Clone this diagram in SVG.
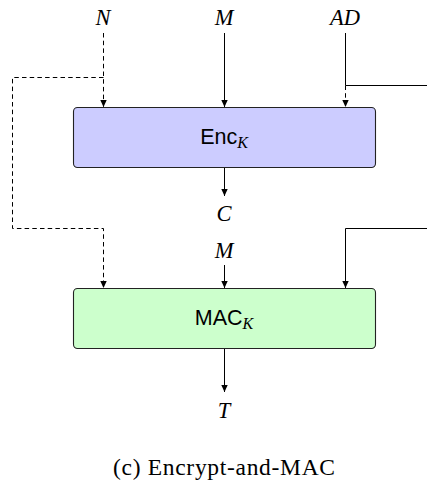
<svg xmlns="http://www.w3.org/2000/svg" width="427" height="485" viewBox="0 0 427 485">
  <style>
    .math { font-family: "Liberation Serif", "DejaVu Serif", serif; font-style: italic; font-size: 22.5px; fill: #000; }
    .sans { font-family: "Liberation Sans", "DejaVu Sans", sans-serif; font-size: 21.5px; fill: #000; }
    .sub { font-family: "Liberation Serif", serif; font-style: italic; font-size: 16px; }
    .cap { font-family: "Liberation Serif", "DejaVu Serif", serif; font-size: 23.5px; fill: #000; }
    .box { stroke: #222; stroke-width: 1.1; }
    .line { fill: none; stroke: #000; stroke-width: 1; }
    .dash { stroke-dasharray: 4.5 3.2; }
  </style>
  <defs>
    <marker id="arrow" viewBox="0 0 7 10" refX="7" refY="5" markerWidth="7" markerHeight="10" markerUnits="userSpaceOnUse" orient="auto">
      <path d="M0,1.8 L7,5 L0,8.2 Z" fill="#000"/>
    </marker>
  </defs>

  <!-- inputs -->
  <g id="label-N"><text class="math" x="103" y="25" text-anchor="middle">N</text></g>
  <g id="label-M1"><text class="math" x="224" y="25" text-anchor="middle">M</text></g>
  <g id="label-AD"><text class="math" x="345" y="25" text-anchor="middle">AD</text></g>

  <!-- encryption block -->
  <g id="enc">
    <rect class="box" x="73.5" y="107.5" width="302" height="60" rx="4" fill="#ccccff"/>
    <text class="sans" x="224" y="143.5" text-anchor="middle">Enc<tspan class="sub" dy="4">K</tspan></text>
  </g>

  <g id="label-C"><text class="math" x="224" y="220.5" text-anchor="middle">C</text></g>
  <g id="label-M2"><text class="math" x="224" y="258" text-anchor="middle">M</text></g>

  <!-- MAC block -->
  <g id="mac">
    <rect class="box" x="73.5" y="288.5" width="302" height="60" rx="4" fill="#ccffcc"/>
    <text class="sans" x="224" y="325" text-anchor="middle">MAC<tspan class="sub" dy="4">K</tspan></text>
  </g>

  <g id="label-T"><text class="math" x="224" y="418" text-anchor="middle">T</text></g>

  <!-- connectors -->
  <g id="connectors">
    <path class="line dash" d="M103.5,33 V107" marker-end="url(#arrow)"/>
    <path class="line dash" d="M103.5,77.5 H12.5 V228.5 H103.5 V288" marker-end="url(#arrow)"/>
    <path class="line" d="M224.5,33 V107" marker-end="url(#arrow)"/>
    <path class="line" d="M345.5,33 V85.5 H427"/>
    <path class="line dash" d="M345.5,85.5 V107" marker-end="url(#arrow)"/>
    <path class="line" d="M224.5,168 V196" marker-end="url(#arrow)"/>
    <path class="line" d="M427,228.5 H345.5 V288" marker-end="url(#arrow)"/>
    <path class="line" d="M224.5,265 V288" marker-end="url(#arrow)"/>
    <path class="line" d="M224.5,349 V392" marker-end="url(#arrow)"/>
  </g>

  <!-- caption -->
  <g id="caption"><text class="cap" x="113" y="474.5" textLength="222" lengthAdjust="spacing">(c) Encrypt-and-MAC</text></g>
</svg>
